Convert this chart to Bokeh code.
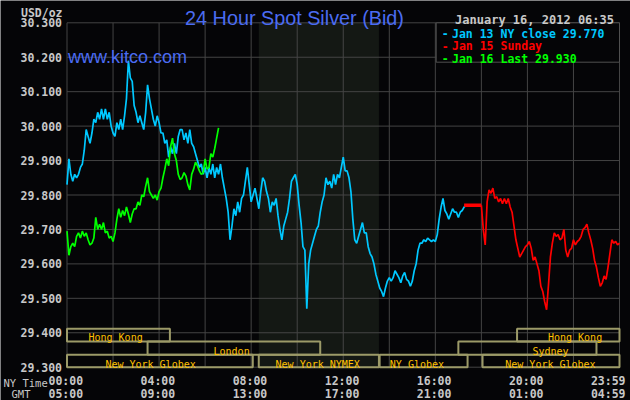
from bokeh.plotting import figure
from bokeh.models import Label, Range1d
from bokeh.embed import file_html
from bokeh.resources import INLINE

# ---------------- data (prices sampled every 5 minutes, NY time) ----------------
step_h = 5 / 60.0

cyan_start = 0.0          # Jan 13 NY session, 00:00 -> 17:20
cyan_vals = [
    29.83, 29.905, 29.86, 29.84, 29.86, 29.85, 29.86, 29.88, 29.89, 29.93, 29.99, 29.97,
    29.95, 29.98, 30.02, 30.01, 30.04, 30.02, 30.05, 30.02, 30.05, 30.02, 30.04, 30.00,
    29.98, 29.97, 30.01, 29.99, 30.02, 29.99, 30.03, 30.08, 30.19, 30.14, 30.13, 30.06,
    30.04, 30.01, 30.03, 30.01, 29.99, 30.04, 30.12, 30.08, 30.05, 30.02, 30.00, 30.03,
    30.01, 29.98, 29.98, 29.95, 29.96, 29.91, 29.94, 29.92, 29.95, 29.92, 29.97, 29.99,
    29.99, 29.96, 29.98, 29.95, 29.99, 29.95, 29.94, 29.92, 29.90, 29.88, 29.89, 29.86,
    29.88, 29.85, 29.88, 29.86, 29.89, 29.85, 29.88, 29.86, 29.89, 29.85, 29.82, 29.79,
    29.75, 29.67, 29.71, 29.76, 29.74, 29.78, 29.75, 29.79, 29.80, 29.84, 29.88, 29.83,
    29.78, 29.80, 29.82, 29.79, 29.76, 29.81, 29.85, 29.84, 29.81, 29.79, 29.75, 29.78,
    29.77, 29.79, 29.74, 29.70, 29.67, 29.71, 29.73, 29.75, 29.79, 29.84, 29.85, 29.86,
    29.83, 29.77, 29.72, 29.65, 29.64, 29.47, 29.60, 29.64, 29.66, 29.68, 29.70, 29.71,
    29.75, 29.78, 29.80, 29.85, 29.83, 29.84, 29.82, 29.86, 29.83, 29.86, 29.85, 29.88,
    29.91, 29.87, 29.87, 29.85, 29.81, 29.73, 29.67, 29.66, 29.68, 29.70, 29.72, 29.69,
    29.69, 29.65, 29.63, 29.62, 29.60, 29.57, 29.55, 29.53, 29.52, 29.505, 29.53, 29.55,
    29.56, 29.55, 29.56, 29.58, 29.57, 29.56, 29.545, 29.565, 29.575, 29.555, 29.55, 29.535,
    29.55, 29.58, 29.60, 29.64, 29.66, 29.66, 29.67, 29.665, 29.675, 29.67, 29.665, 29.67,
    29.665, 29.685, 29.73, 29.765, 29.79, 29.755, 29.745, 29.73, 29.745, 29.76, 29.75, 29.75,
    29.735, 29.75, 29.755, 29.765, 29.77,
]

green_start = 0.0         # Jan 16, 00:00 -> 06:35
green_vals = [
    29.695, 29.625, 29.65, 29.66, 29.65, 29.68, 29.69, 29.675, 29.695, 29.68, 29.69, 29.67,
    29.655, 29.66, 29.675, 29.735, 29.70, 29.715, 29.70, 29.72, 29.69, 29.695, 29.675, 29.68,
    29.665, 29.69, 29.73, 29.76, 29.735, 29.755, 29.74, 29.765, 29.745, 29.72, 29.745, 29.76,
    29.76, 29.78, 29.77, 29.80, 29.795, 29.825, 29.85, 29.81, 29.80, 29.79, 29.80, 29.785,
    29.81, 29.82, 29.85, 29.875, 29.905, 29.885, 29.94, 29.965, 29.92, 29.90, 29.86, 29.845,
    29.85, 29.865, 29.855, 29.83, 29.815, 29.86, 29.875, 29.895, 29.885, 29.87, 29.86, 29.865,
    29.905, 29.875, 29.88, 29.92, 29.91, 29.935, 29.965, 29.995,
]

red_start = 18.0          # Jan 15 Sunday evening, 18:00 -> 23:59
red_vals = [
    29.77, 29.70, 29.655, 29.78, 29.815, 29.805, 29.82, 29.79, 29.795, 29.78, 29.79, 29.775,
    29.79, 29.775, 29.79, 29.765, 29.75, 29.71, 29.67, 29.645, 29.62, 29.63, 29.64, 29.65,
    29.655, 29.665, 29.645, 29.61, 29.62, 29.60, 29.58, 29.535, 29.52, 29.49, 29.467, 29.54,
    29.62, 29.66, 29.69, 29.68, 29.685, 29.67, 29.675, 29.70, 29.64, 29.62, 29.64, 29.645,
    29.67, 29.655, 29.665, 29.67, 29.68, 29.70, 29.705, 29.715, 29.69, 29.67, 29.645, 29.61,
    29.59, 29.56, 29.535, 29.545, 29.565, 29.555, 29.59, 29.63, 29.67, 29.66, 29.665, 29.655, 29.66,
]

close_price = 29.77
close_span = [17.25, 18.0]
nymex_span = [8.33, 13.55]

y_ticks = [29.3, 29.4, 29.5, 29.6, 29.7, 29.8, 29.9, 30.0, 30.1, 30.2, 30.3]
x_grid = [0, 2, 4, 6, 8, 10, 12, 14, 16, 18, 20, 22, 24]
time_ticks = [0, 4, 8, 12, 16, 20, 24]
ny_labels = ["00:00", "04:00", "08:00", "12:00", "16:00", "20:00", "23:59"]
gmt_labels = ["05:00", "09:00", "13:00", "17:00", "21:00", "01:00", "04:59"]

session_names = ["Hong Kong", "London", "New York Globex", "New York NYMEX",
                 "NY Globex", "Hong Kong", "Sydney", "New York Globex"]
session_start = [0.0, 3.5, 0.0, 8.33, 13.58, 19.55, 17.0, 18.05]
session_end = [4.47, 11.0, 8.07, 13.55, 17.4, 24.0, 23.0, 24.0]
session_row = [2, 1, 0, 0, 0, 2, 1, 0]
session_label_at = [2.11, 7.15, 3.63, 10.89, 15.2, 22.07, 21.0, 21.0]

legend_texts = ["Jan 13 NY close 29.770", "Jan 15 Sunday", "Jan 16 Last 29.930"]

# ---------------- style ----------------
BG = "#050507"
SHADE = "#141814"
GRID = "#444444"
CYAN = "#00c8ff"
RED = "#ff0000"
GREEN = "#00ff00"
BLUE = "#4b6cf2"
GRAY = "#c8c8c8"
BOXC = "#9c9a68"
GOLD = "#ffc000"
MONO = "DejaVu Sans Mono"
SANS = "Liberation Sans"

W, H = 630, 400


def rx(x):  # layout pixel -> hours
    return (x - 66.5) / 552.5 * 24.0


def ry(y):  # layout pixel -> price
    return 30.3 - (y - 22.3) / 344.4


p = figure(width=W, height=H, x_range=Range1d(rx(0), rx(630)), y_range=Range1d(ry(400), ry(0)),
           output_backend="svg", toolbar_location=None, x_axis_location=None,
           y_axis_location=None, min_border=0, title=None,
           background_fill_color=BG, border_fill_color=BG, outline_line_color=None)
p.xgrid.visible = False
p.ygrid.visible = False

# NYMEX shading
p.quad(left=[nymex_span[0]], right=[nymex_span[1]], bottom=[y_ticks[0]], top=[y_ticks[-1]],
       fill_color=SHADE, line_color=None)

# grid / frame
p.segment(x0=x_grid, y0=[y_ticks[0]] * len(x_grid), x1=x_grid, y1=[y_ticks[-1]] * len(x_grid),
          line_color=GRID, line_width=1)
p.segment(x0=[x_grid[0]] * len(y_ticks), y0=y_ticks, x1=[x_grid[-1]] * len(y_ticks), y1=y_ticks,
          line_color=GRID, line_width=1)

# y tick labels
for v in y_ticks:
    p.add_layout(Label(x=rx(61.5), y=v, text=f"{v:.3f}", text_font=MONO, text_font_style="bold",
                       text_font_size="11.5px", text_color=GRAY, text_align="right",
                       text_baseline="middle"))

# session boxes
row_edges = [29.3, ry(354.2), ry(341.0), ry(328.3)]
row_base = [ry(364.0), ry(351.0), ry(337.3)]
for name, s, e, r, c in zip(session_names, session_start, session_end, session_row, session_label_at):
    p.quad(left=[s], right=[e], bottom=[row_edges[r]], top=[row_edges[r + 1]],
           fill_color=None, line_color=BOXC, line_width=2)
    p.add_layout(Label(x=c, y=row_base[r], text=name, text_font=MONO, text_font_size="10px",
                       text_color=GOLD, text_align="center", text_baseline="alphabetic"))

# series
cyan_t = [cyan_start + i * step_h for i in range(len(cyan_vals))]
green_t = [green_start + i * step_h for i in range(len(green_vals))]
red_t = [red_start + i * step_h for i in range(len(red_vals))]

p.line(cyan_t, cyan_vals, line_color=CYAN, line_width=1.7)
p.line(close_span, [close_price, close_price], line_color=RED, line_width=3.5)
p.line(red_t, red_vals, line_color=RED, line_width=1.7)
p.line(green_t, green_vals, line_color=GREEN, line_width=1.7)

# legend box
p.quad(left=[rx(435.7)], right=[24], bottom=[ry(61.7)], top=[30.3],
       fill_color=BG, line_color="#505050", line_width=1)
for txt, col, yb in zip(legend_texts, [CYAN, RED, GREEN], [33.2, 45.6, 58.0]):
    p.add_layout(Label(x=rx(441.3), y=ry(yb), text="-", text_font=MONO, text_font_style="bold",
                       text_font_size="11.5px", text_color=col, text_baseline="alphabetic"))
    p.add_layout(Label(x=rx(451.5), y=ry(yb), text=txt, text_font=MONO, text_font_style="bold",
                       text_font_size="11.5px", text_color=col, text_baseline="alphabetic"))

# kitco
p.add_layout(Label(x=rx(67.5), y=ry(56), text="www.kitco.com", text_font=SANS,
                   text_font_size="18px", text_color=BLUE, text_baseline="alphabetic"))

# title, date, unit
p.add_layout(Label(x=rx(294), y=ry(17.3), text="24 Hour Spot Silver (Bid)",
                   text_font=SANS, text_font_size="19.8px", text_color=BLUE,
                   text_align="center", text_baseline="alphabetic"))
p.add_layout(Label(x=rx(613.5), y=ry(19.3), text="January 16, 2012 06:35", text_font=MONO,
                   text_font_style="bold", text_font_size="12px", text_color=GRAY,
                   text_align="right", text_baseline="alphabetic"))
p.add_layout(Label(x=rx(62), y=ry(12.5), text="USD/oz", text_font=MONO,
                   text_font_style="bold", text_font_size="11.5px", text_color=GRAY,
                   text_align="right", text_baseline="alphabetic"))

# time axis labels
p.add_layout(Label(x=rx(3), y=ry(382.5), text="NY Time", text_font=MONO, text_font_size="10.5px",
                   text_color=GRAY, text_align="left", text_baseline="alphabetic"))
p.add_layout(Label(x=rx(20.5), y=ry(393.3), text="GMT", text_font=MONO, text_font_size="10.5px",
                   text_color=GRAY, text_align="center", text_baseline="alphabetic"))
for t, a, g in zip(time_ticks, ny_labels, gmt_labels):
    if t == time_ticks[-1]:
        xx, al = rx(625), "right"
    else:
        xx, al = t - rx(67.7), "center"
    p.add_layout(Label(x=xx, y=ry(380.5), text=a, text_font=MONO, text_font_style="bold",
                       text_font_size="11.5px", text_color=GRAY, text_align=al,
                       text_baseline="alphabetic"))
    p.add_layout(Label(x=xx, y=ry(393.3), text=g, text_font=MONO, text_font_style="bold",
                       text_font_size="11.5px", text_color=GRAY, text_align=al,
                       text_baseline="alphabetic"))

open("out.html", "w").write(file_html(p, INLINE))
